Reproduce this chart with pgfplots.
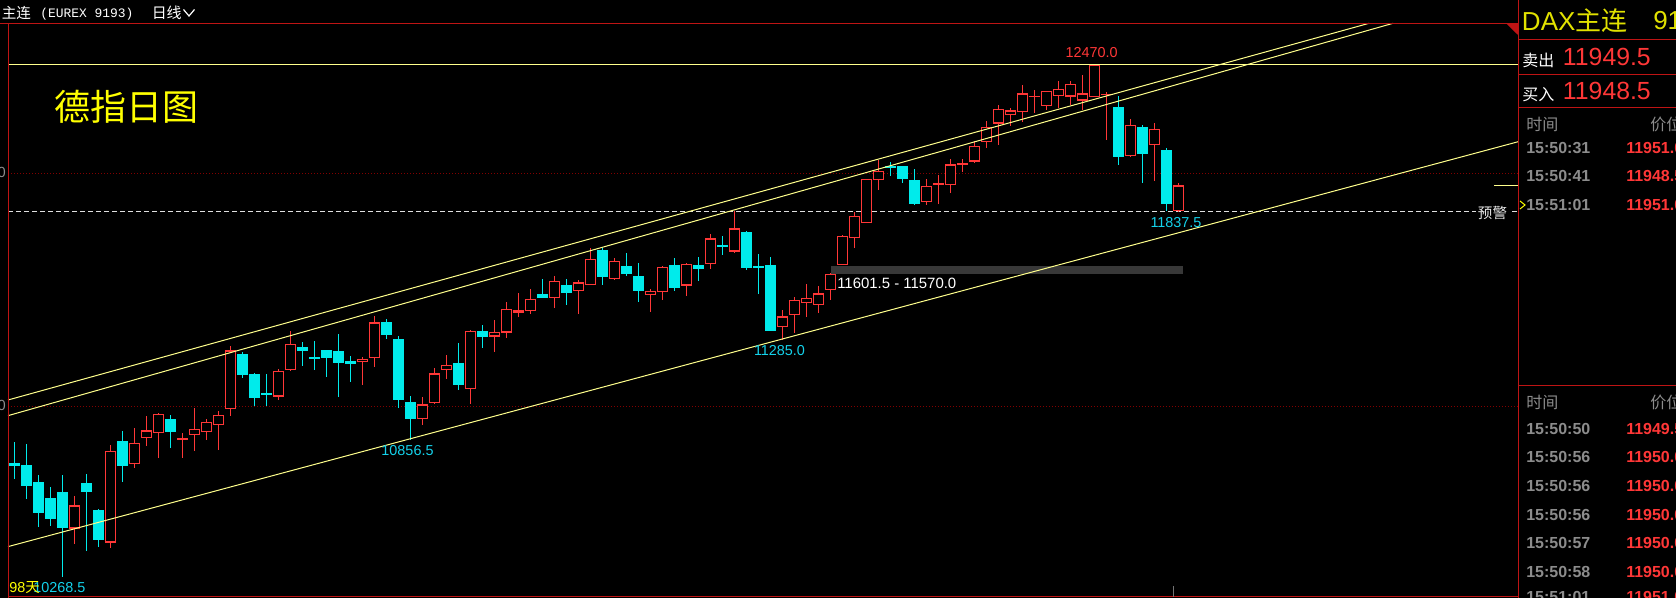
\documentclass[border=0pt]{standalone}
\usepackage{pgfplots}
\pgfplotsset{compat=1.18}
\usepackage{pgfplotstable}
\usepackage{fontspec}
\setmainfont{Liberation Sans}
\newfontfamily\cjk{Noto Sans CJK SC}
\newfontfamily\monofont{Liberation Mono}
\definecolor{upred}{RGB}{255,55,55}
\definecolor{dncyan}{RGB}{0,235,235}
\definecolor{lblcyan}{RGB}{20,210,235}
\definecolor{trend}{RGB}{255,255,140}
\definecolor{border}{RGB}{190,20,20}
\definecolor{gridred}{RGB}{130,0,0}
\definecolor{pgray}{RGB}{140,140,140}
\definecolor{titleyellow}{RGB}{255,255,0}
\definecolor{daxyellow}{RGB}{225,225,0}
\newcommand{\fs}[1]{\fontsize{#1}{#1}\selectfont}

% up (red, hollow) candles: index open high low close
\pgfplotstableread{
i o h l c
5 10475 10615 10410 10575
8 10415 10834 10393 10809
10 10751 10907 10737 10842
11 10863 10959 10831 10897
12 10885 10972 10780 10967
14 10859 10886 10780 10863
15 10876 10993 10810 10902
16 10891 10946 10857 10932
17 10919 10979 10814 10962
18 10988 11260 10960 11241
22 11042 11161 11029 11152
23 11158 11324 11152 11268
29 11192 11212 11093 11204
30 11207 11389 11171 11361
34 10947 11041 10922 11009
35 11016 11165 11012 11142
36 11155 11221 11118 11177
38 11076 11328 11010 11323
40 11300 11371 11234 11319
41 11317 11449 11294 11419
42 11403 11487 11384 11413
43 11411 11505 11397 11462
45 11467 11560 11423 11539
47 11497 11543 11397 11533
48 11523 11680 11523 11633
50 11549 11636 11545 11625
53 11480 11503 11406 11496
54 11493 11603 11457 11599
56 11519 11616 11474 11611
58 11610 11741 11590 11722
60 11665 11840 11661 11765
64 11340 11414 11285 11387
65 11392 11470 11316 11456
66 11443 11526 11386 11465
67 11435 11519 11401 11486
68 11499 11575 11459 11569
69 11606 11737 11606 11731
70 11722 11835 11680 11817
71 11787 11976 11787 11976
72 11972 12059 11930 12012
76 11877 11976 11867 11946
77 11954 11994 11871 11960
78 11950 12063 11918 12040
79 12036 12063 12007 12045
80 12052 12142 12045 12119
81 12137 12226 12112 12201
82 12215 12295 12123 12277
83 12253 12282 12206 12272
84 12264 12381 12221 12345
85 12331 12360 12262 12334
86 12292 12354 12274 12354
87 12335 12397 12284 12363
88 12331 12397 12296 12385
89 12314 12423 12275 12345
90 12328 12470 12328 12466
91 12339 12350 12145 12344
93 12076 12234 12070 12208
95 12122 12218 11970 12191
97 11841 11959 11837.5 11950
}\updata

% down (cyan, filled) candles
\pgfplotstableread{
i o h l c
0 10757 10847 10688 10745
1 10748 10839 10604 10658
2 10675 10705 10483 10543
3 10607 10654 10486 10518
4 10632 10705 10268.5 10479
6 10671 10710 10380 10634
7 10555 10559 10395 10427
9 10851 10894 10677 10745
13 10946 10963 10823 10891
19 11225 11235 11123 11136
20 11139 11144 11003 11038
21 11058 11139 11003 11049
24 11255 11277 11175 11239
25 11212 11281 11158 11205
26 11242 11242 11128 11209
27 11238 11311 11042 11188
28 11195 11217 11106 11184
31 11363 11376 11291 11308
32 11290 11303 10995 11029
33 11019 11045 10856.5 10947
37 11187 11273 11071 11092
39 11324 11350 11251 11298
44 11483 11548 11466 11466
46 11522 11548 11436 11487
49 11672 11682 11522 11556
51 11605 11659 11560 11569
52 11560 11616 11449 11496
55 11608 11638 11496 11509
57 11608 11642 11539 11590
59 11692 11732 11651 11684
61 11750 11755 11587 11595
62 11602 11655 11483 11596
63 11608 11641 11324 11324
73 12034 12052 11990 12027
74 12033 12033 11961 11976
75 11973 12020 11867 11871
92 12287 12334 12039 12073
94 12201 12208 11961 12086
96 12102 12109 11840 11871
}\dndata

\pgfplotsset{
  ebar/.style={draw=none, mark=none, forget plot,
    error bars/.cd, y dir=both, y explicit, error mark=none,
    error bar style={draw=#1}},
}

\begin{document}
\begin{tikzpicture}
\useasboundingbox (0,0) rectangle (1257pt,448.5pt);
\fill[black] (0,0) rectangle (1257pt,448.5pt);
\begin{axis}[at={(0pt,0pt)}, anchor=south west, scale only axis,
  width=1257pt, height=448.5pt,
  xmin=-1.19167, xmax=138.475, ymin=10176.99, ymax=12746.3,
  hide axis, clip=true]
% grid lines
\addplot[gridred, line width=0.75pt, dash pattern=on 0.75pt off 1.5pt, forget plot] coordinates {(-0.525,12000) (125.33,12000)};
\addplot[gridred, line width=0.75pt, dash pattern=on 0.75pt off 1.5pt, forget plot] coordinates {(-0.525,11000) (125.33,11000)};
% alert line
\addplot[white!88!black, line width=0.75pt, dash pattern=on 3.75pt off 2.25pt, forget plot] coordinates {(-0.525,11837.5) (125.33,11837.5)};
% gray band
\addplot[fill=black!78, draw=none, forget plot] coordinates {(68.03,11570) (97.42,11570) (97.42,11601.5) (68.03,11601.5)} -- cycle;
% wicks
\addplot[ebar={upred, line width=0.75pt}]
  table[x=i, y expr={(\thisrow{h}+\thisrow{l})/2}, y error expr={(\thisrow{h}-\thisrow{l})/2}] {\updata};
\addplot[ebar={dncyan, line width=0.75pt}]
  table[x=i, y expr={(\thisrow{h}+\thisrow{l})/2}, y error expr={(\thisrow{h}-\thisrow{l})/2}] {\dndata};
% bodies
\addplot[ebar={upred, line width=8.25pt}]
  table[x=i, y expr={(\thisrow{o}+\thisrow{c})/2}, y error expr={(\thisrow{c}-\thisrow{o})/2}] {\updata};
\addplot[ebar={black, line width=6.45pt}]
  table[x=i, y expr={(\thisrow{o}+\thisrow{c})/2}, y error expr={max((\thisrow{c}-\thisrow{o})/2-5,0)}] {\updata};
\addplot[ebar={dncyan, line width=8.25pt}]
  table[x=i, y expr={(\thisrow{o}+\thisrow{c})/2}, y error expr={(\thisrow{o}-\thisrow{c})/2}] {\dndata};
% trend lines
\addplot[trend, line width=0.75pt, forget plot] coordinates {(-0.525,12470) (125.33,12470)};
\addplot[trend, line width=0.75pt, forget plot] coordinates {(-0.525,11027.7) (112.9,12646.2)};
\addplot[trend, line width=0.75pt, forget plot] coordinates {(-0.525,10960.4) (114.9,12646.2)};
\addplot[trend, line width=0.75pt, forget plot] coordinates {(-0.525,10397.7) (125.33,12137.5)};
\addplot[trend, line width=0.75pt, forget plot] coordinates {(123.33,11950) (125.33,11950)};
\end{axis}

\begin{scope}[x=0.75pt, y=-0.75pt, shift={(0pt,448.5pt)}]
% frame
\draw[border, line width=0.75pt] (0,23.3)--(1518,23.3);
\draw[border, line width=0.75pt] (8,23.3)--(8,598);
\draw[border, line width=0.75pt] (8,596.7)--(1518,596.7);
\draw[border, line width=0.75pt] (1518,0)--(1518,598);
\fill[border] (1506,23.3)--(1518,23.3)--(1518,35)--cycle;
\draw[black!55, line width=0.75pt] (1173.6,586)--(1173.6,597);
% header
\node[anchor=west, inner sep=0, white, font=\cjk\fs{10.9}] at (1.5,13.3) {主连};
\node[anchor=west, inner sep=0, white, font=\monofont\fs{9.7}] at (40,13.8) {(EUREX 9193)};
\node[anchor=west, inner sep=0, white, font=\cjk\fs{11.2}] at (151.5,13.3) {日线};
\draw[white, line width=0.9pt] (183.5,9.5)--(189,16)--(194.5,9.5);
% title
\node[anchor=west, inner sep=0, titleyellow, font=\cjk\fs{27}] at (54,106.5) {德指日图};
% axis remnants
\node[anchor=east, inner sep=0, pgray, font=\fs{11}] at (6,172) {0};
\node[anchor=east, inner sep=0, pgray, font=\fs{11}] at (6,405) {0};
% annotations
\node[inner sep=0, upred, font=\fs{10.8}] at (1091.7,52.5) {12470.0};
\node[inner sep=0, lblcyan, font=\fs{10.8}] at (1176,222.5) {11837.5};
\node[inner sep=0, lblcyan, font=\fs{10.8}] at (779.5,351) {11285.0};
\node[inner sep=0, lblcyan, font=\fs{10.8}] at (407.5,450.5) {10856.5};
\node[anchor=west, inner sep=0, lblcyan, font=\fs{10.8}] at (33,587.5) {10268.5};
\node[anchor=west, inner sep=0, titleyellow, font=\fs{10.8}] at (9,587.5) {98{\cjk 天}};
\node[anchor=west, inner sep=0, white, font=\fs{11.2}] at (837,283) {11601.5 - 11570.0};
\node[inner sep=1.5pt, fill=black, text=white!90!black, font=\cjk\fs{10.9}] at (1492.5,212.5) {预警};
% right panel
\draw[border, line width=0.75pt] (1518,40)--(1676,40);
\draw[border, line width=0.75pt] (1518,74.5)--(1676,74.5);
\draw[border, line width=0.75pt] (1518,108)--(1676,108);
\draw[border, line width=0.75pt] (1518,386)--(1676,386);
\node[anchor=west, inner sep=0, daxyellow, font=\fs{19.5}] at (1521.7,21) {DAX{\cjk 主连}};
\node[anchor=west, inner sep=0, daxyellow, font=\fs{19.5}] at (1653,21) {91};
\node[anchor=west, inner sep=0, white, font=\cjk\fs{12}] at (1522,60.5) {卖出};
\node[anchor=west, inner sep=0, upred, font=\fs{18.6}] at (1562.7,56.6) {11949.5};
\node[anchor=west, inner sep=0, white, font=\cjk\fs{12}] at (1522,95) {买入};
\node[anchor=west, inner sep=0, upred, font=\fs{18.6}] at (1562.7,91) {11948.5};
\node[anchor=west, inner sep=0, pgray, font=\cjk\fs{12}] at (1526,124) {时间};
\node[anchor=west, inner sep=0, pgray, font=\cjk\fs{12}] at (1650,124) {价位};
\node[anchor=west, inner sep=0, pgray, font=\bfseries\fs{12}] at (1526,148.5) {15:50:31};
\node[anchor=west, inner sep=0, upred, font=\bfseries\fs{12}] at (1626,148.5) {11951.0};
\node[anchor=west, inner sep=0, pgray, font=\bfseries\fs{12}] at (1526,176.5) {15:50:41};
\node[anchor=west, inner sep=0, upred, font=\bfseries\fs{12}] at (1626,176.5) {11948.5};
\node[anchor=west, inner sep=0, pgray, font=\bfseries\fs{12}] at (1526,205) {15:51:01};
\node[anchor=west, inner sep=0, upred, font=\bfseries\fs{12}] at (1626,205) {11951.0};
\draw[titleyellow, line width=0.75pt] (1520,201)--(1525,205)--(1520,209);
\node[anchor=west, inner sep=0, pgray, font=\cjk\fs{12}] at (1526,402) {时间};
\node[anchor=west, inner sep=0, pgray, font=\cjk\fs{12}] at (1650,402) {价位};
\node[anchor=west, inner sep=0, pgray, font=\bfseries\fs{12}] at (1526,429) {15:50:50};
\node[anchor=west, inner sep=0, upred, font=\bfseries\fs{12}] at (1626,429) {11949.5};
\node[anchor=west, inner sep=0, pgray, font=\bfseries\fs{12}] at (1526,457) {15:50:56};
\node[anchor=west, inner sep=0, upred, font=\bfseries\fs{12}] at (1626,457) {11950.0};
\node[anchor=west, inner sep=0, pgray, font=\bfseries\fs{12}] at (1526,486) {15:50:56};
\node[anchor=west, inner sep=0, upred, font=\bfseries\fs{12}] at (1626,486) {11950.0};
\node[anchor=west, inner sep=0, pgray, font=\bfseries\fs{12}] at (1526,514.5) {15:50:56};
\node[anchor=west, inner sep=0, upred, font=\bfseries\fs{12}] at (1626,514.5) {11950.0};
\node[anchor=west, inner sep=0, pgray, font=\bfseries\fs{12}] at (1526,543) {15:50:57};
\node[anchor=west, inner sep=0, upred, font=\bfseries\fs{12}] at (1626,543) {11950.0};
\node[anchor=west, inner sep=0, pgray, font=\bfseries\fs{12}] at (1526,571.5) {15:50:58};
\node[anchor=west, inner sep=0, upred, font=\bfseries\fs{12}] at (1626,571.5) {11950.0};
\node[anchor=west, inner sep=0, pgray, font=\bfseries\fs{12}] at (1526,597) {15:51:01};
\node[anchor=west, inner sep=0, upred, font=\bfseries\fs{12}] at (1626,597) {11951.0};
\end{scope}
\end{tikzpicture}
\end{document}
